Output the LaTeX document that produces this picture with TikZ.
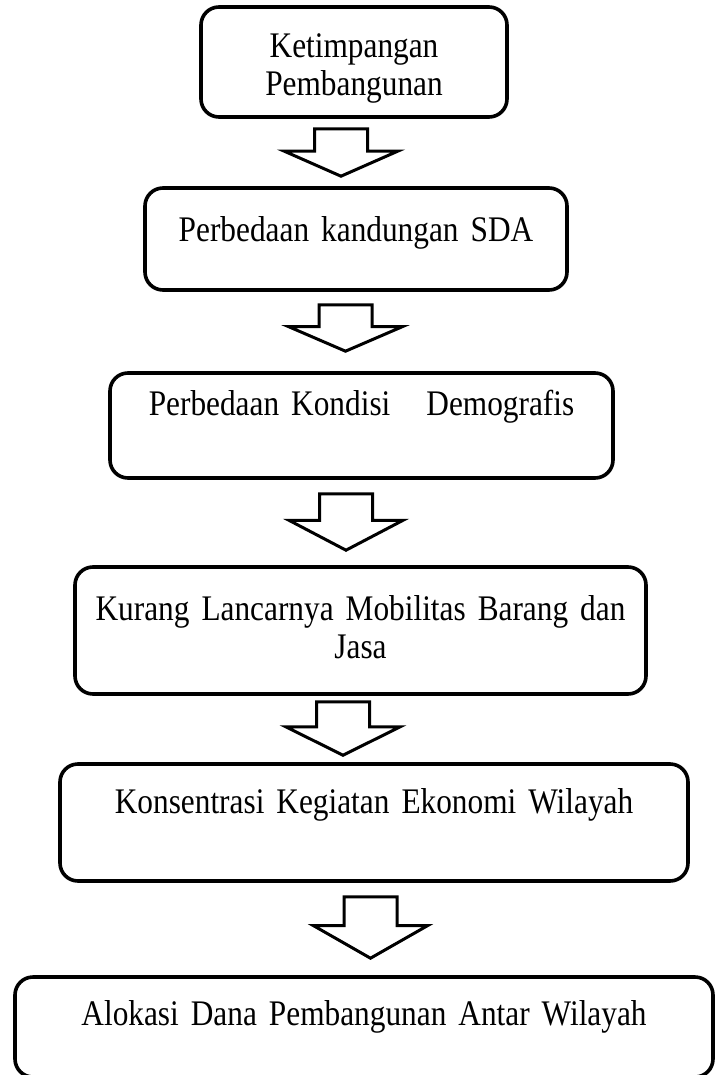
\documentclass[tikz,border=0pt]{standalone}
\usepackage{fontspec}
\setmainfont{Liberation Serif}[FakeStretch=0.87, WordSpace=0.75]
\usetikzlibrary{calc}

\begin{document}
\begin{tikzpicture}[x=1pt,y=-1pt,
    box/.style={draw, line width=3.6pt, rounded corners=18pt, inner sep=0pt,
        anchor=base, align=center, font=\fontsize{36}{38}\selectfont},
    hollow/.style={draw, line width=3pt, line join=miter, fill=white}]

\useasboundingbox (0,0) rectangle (715,1075);

% boxes, top to bottom
\node[box, text width=306pt, text height=51pt, text depth=59pt] (ketimpangan) at (354,58) {Ketimpangan\\Pembangunan};
\node[box, text width=422pt, text height=54pt, text depth=48pt] (sda) at (356,242) {Perbedaan kandungan SDA};
\node[box, text width=503pt, text height=42pt, text depth=63pt] (demografi) at (361.5,415) {Perbedaan Kondisi\ \ \ Demografis};
\node[box, text width=571pt, text height=53pt, text depth=74pt] (mobilitas) at (360.5,620) {Kurang Lancarnya Mobilitas Barang dan\\Jasa};
\node[box, text width=628pt, text height=49pt, text depth=68pt] (konsentrasi) at (374,813) {Konsentrasi Kegiatan Ekonomi Wilayah};
\node[box, text width=698pt, text height=48pt, text depth=52pt] (alokasi) at (364,1025) {Alokasi Dana Pembangunan Antar Wilayah};

% hollow arrows between the boxes
\foreach \from/\to/\dx/\gapa/\gapb in {ketimpangan/sda/-13/10/10, sda/demografi/-10.5/13/20,
    demografi/mobilitas/-15.5/14/15, mobilitas/konsentrasi/-17.5/6/7, konsentrasi/alokasi/-3.5/14/17} {
  \draw[hollow] let \p1=($(\from.south)+(\dx,\gapa)$), \p2=($(\to.north)+(0,-\gapb)$) in
    (\x1-26.5pt,\y1) -- (\x1+26.5pt,\y1) -- (\x1+26.5pt,{\y1+0.47*(\y2-\y1)})
    -- (\x1+57pt,{\y1+0.47*(\y2-\y1)}) -- (\x1,\y2) -- (\x1-57pt,{\y1+0.47*(\y2-\y1)})
    -- (\x1-26.5pt,{\y1+0.47*(\y2-\y1)}) -- cycle;
}

\end{tikzpicture}
\end{document}
